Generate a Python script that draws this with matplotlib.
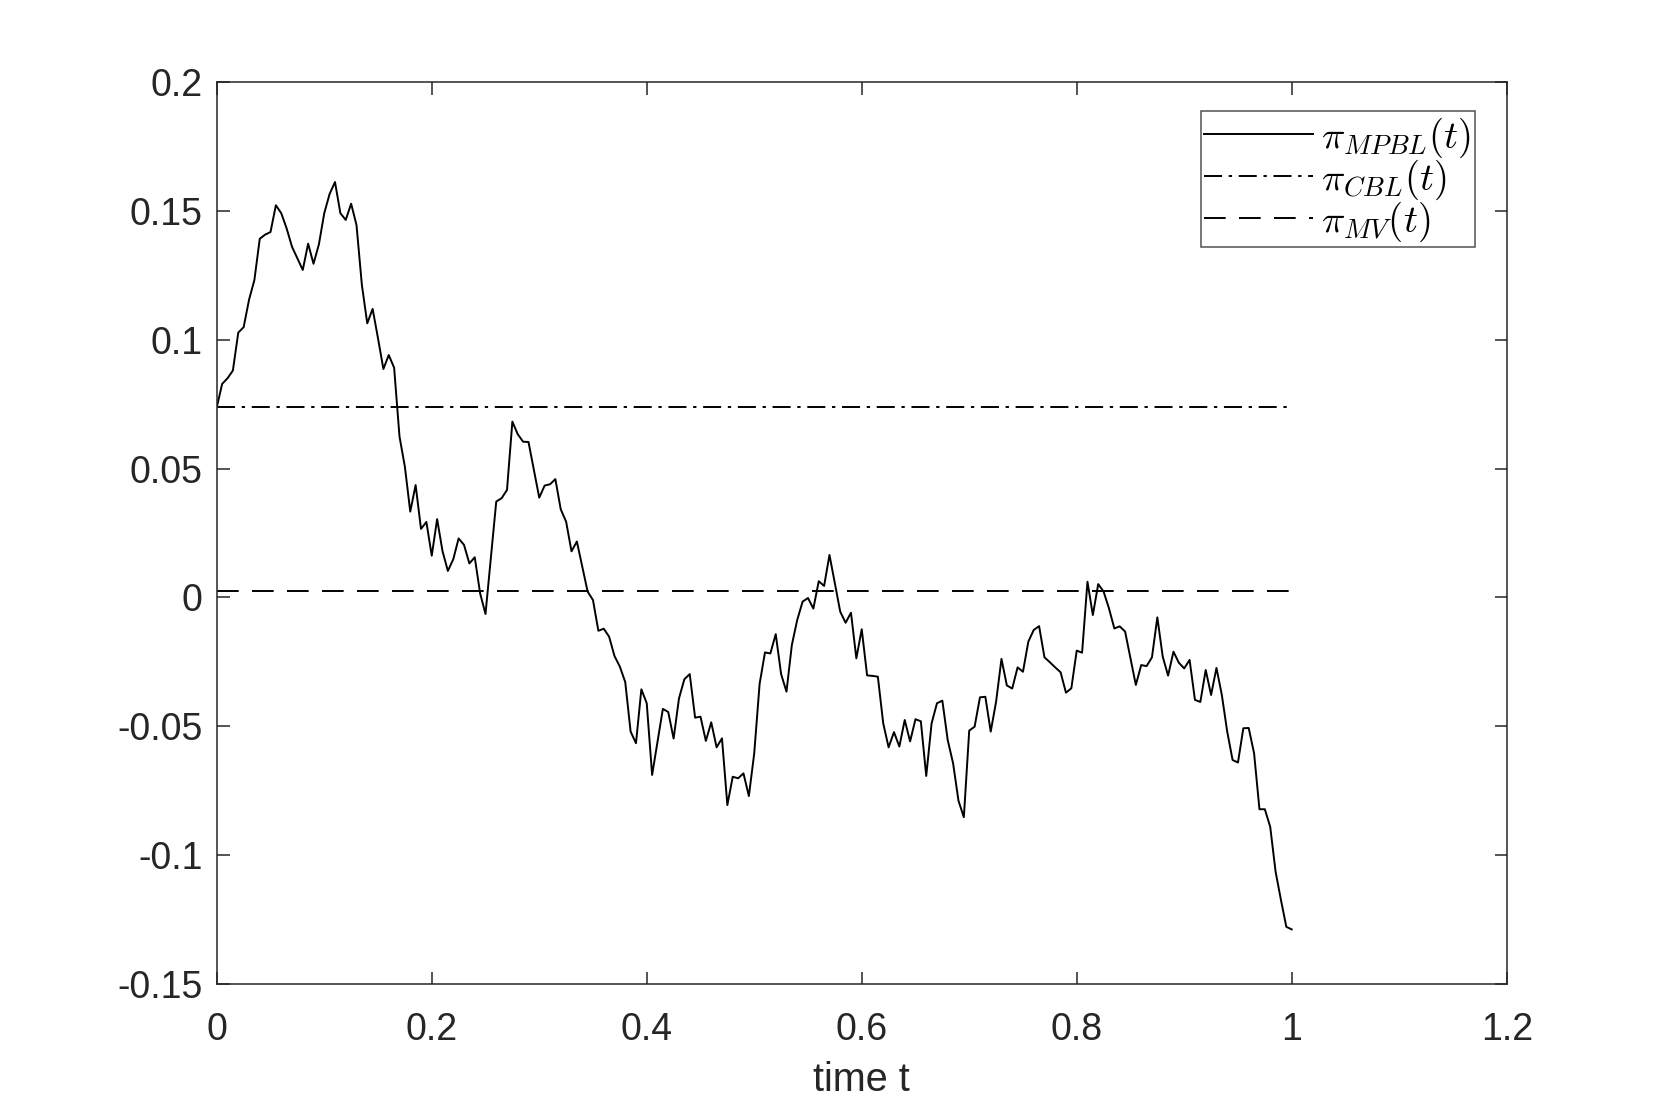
import numpy as np
import matplotlib
matplotlib.use('Agg')
import matplotlib.pyplot as plt

plt.rcParams['font.family'] = ['Liberation Sans', 'DejaVu Sans']
plt.rcParams['mathtext.fontset'] = 'cm'
plt.rcParams['lines.scale_dashes'] = False

# datos
t = np.linspace(0, 1, 201)
pi_mpbl = [
    0.0737, 0.0828, 0.0850, 0.0880, 0.1027, 0.1048, 0.1154, 0.1231, 0.1391, 0.1407,
    0.1417, 0.1521, 0.1490, 0.1431, 0.1360, 0.1315, 0.1270, 0.1372, 0.1294, 0.1369,
    0.1490, 0.1565, 0.1611, 0.1490, 0.1464, 0.1527, 0.1444, 0.1212, 0.1063, 0.1119,
    0.1005, 0.0886, 0.0940, 0.0891, 0.0624, 0.0507, 0.0333, 0.0436, 0.0266, 0.0293,
    0.0162, 0.0304, 0.0180, 0.0103, 0.0148, 0.0229, 0.0204, 0.0132, 0.0156, 0.0016,
    -0.0064, 0.0154, 0.0372, 0.0385, 0.0417, 0.0682, 0.0633, 0.0604, 0.0603, 0.0494,
    0.0387, 0.0434, 0.0439, 0.0459, 0.0342, 0.0294, 0.0179, 0.0217, 0.0120, 0.0023,
    -0.0010, -0.0129, -0.0121, -0.0152, -0.0227, -0.0268, -0.0328, -0.0520, -0.0565, -0.0356,
    -0.0410, -0.0688, -0.0559, -0.0432, -0.0444, -0.0547, -0.0391, -0.0317, -0.0297, -0.0466,
    -0.0462, -0.0556, -0.0484, -0.0581, -0.0546, -0.0805, -0.0695, -0.0701, -0.0682, -0.0770,
    -0.0604, -0.0335, -0.0213, -0.0217, -0.0142, -0.0297, -0.0365, -0.0184, -0.0087, -0.0016,
    -0.0002, -0.0043, 0.0063, 0.0045, 0.0165, 0.0055, -0.0055, -0.0098, -0.0059, -0.0236,
    -0.0123, -0.0302, -0.0304, -0.0307, -0.0488, -0.0581, -0.0522, -0.0578, -0.0475, -0.0558,
    -0.0472, -0.0480, -0.0692, -0.0488, -0.0410, -0.0400, -0.0553, -0.0643, -0.0788, -0.0852,
    -0.0516, -0.0501, -0.0387, -0.0385, -0.0520, -0.0404, -0.0238, -0.0341, -0.0353, -0.0271,
    -0.0288, -0.0171, -0.0126, -0.0111, -0.0232, -0.0251, -0.0271, -0.0290, -0.0369, -0.0352,
    -0.0206, -0.0214, 0.0061, -0.0068, 0.0052, 0.0023, -0.0042, -0.0120, -0.0112, -0.0132,
    -0.0236, -0.0339, -0.0262, -0.0266, -0.0232, -0.0077, -0.0229, -0.0303, -0.0210, -0.0253,
    -0.0275, -0.0242, -0.0397, -0.0405, -0.0281, -0.0378, -0.0273, -0.0378, -0.0520, -0.0630,
    -0.0640, -0.0507, -0.0506, -0.0604, -0.0821, -0.0821, -0.0889, -0.1063, -0.1173, -0.1277,
    -0.1287,
]
pi_cbl = 0.0737
pi_mv = 0.0025

fig = plt.figure(figsize=(16.61, 11.07), dpi=100)
ax = fig.add_axes([0.1305, 0.1108, 0.7766, 0.8154])

ax.plot(t, pi_mpbl, color='k', lw=1.4, label=r'$\pi_{MPBL}(t)$')
ax.plot(t, np.full_like(t, pi_cbl), color='k', lw=1.4, dashes=(13, 4.8, 2.4, 4.8),
        label=r'$\pi_{CBL}(t)$')
ax.plot(t, np.full_like(t, pi_mv), color='k', lw=1.4, dashes=(15.6, 9.6),
        label=r'$\pi_{MV}(t)$')

ax.set_xlim(0, 1.2)
ax.set_ylim(-0.15, 0.2)
ax.set_xticks([0, 0.2, 0.4, 0.6, 0.8, 1, 1.2])
ax.set_xticklabels(['0', '0.2', '0.4', '0.6', '0.8', '1', '1.2'])
ax.set_yticks([-0.15, -0.1, -0.05, 0, 0.05, 0.1, 0.15, 0.2])
ax.set_yticklabels(['-0.15', '-0.1', '-0.05', '0', '0.05', '0.1', '0.15', '0.2'])
ax.tick_params(direction='in', length=9, width=1.1, colors='#262626',
               labelsize=27, top=True, right=True)
ax.tick_params(axis='x', pad=20)
ax.tick_params(axis='y', pad=10)
for s in ax.spines.values():
    s.set_linewidth(1.1)
    s.set_color('#262626')
ax.set_xlabel('time t', fontsize=28.5, color='#262626', labelpad=9.5)

leg = ax.legend(loc='upper right', bbox_to_anchor=(0.9755, 0.967), fontsize=28,
                handlelength=2.8, handletextpad=0.2, labelspacing=-0.06,
                borderpad=0.1, borderaxespad=0, fancybox=False, frameon=True)
leg.get_frame().set_edgecolor('#262626')
leg.get_frame().set_linewidth(1.1)

plt.savefig('out.png', dpi=100)
